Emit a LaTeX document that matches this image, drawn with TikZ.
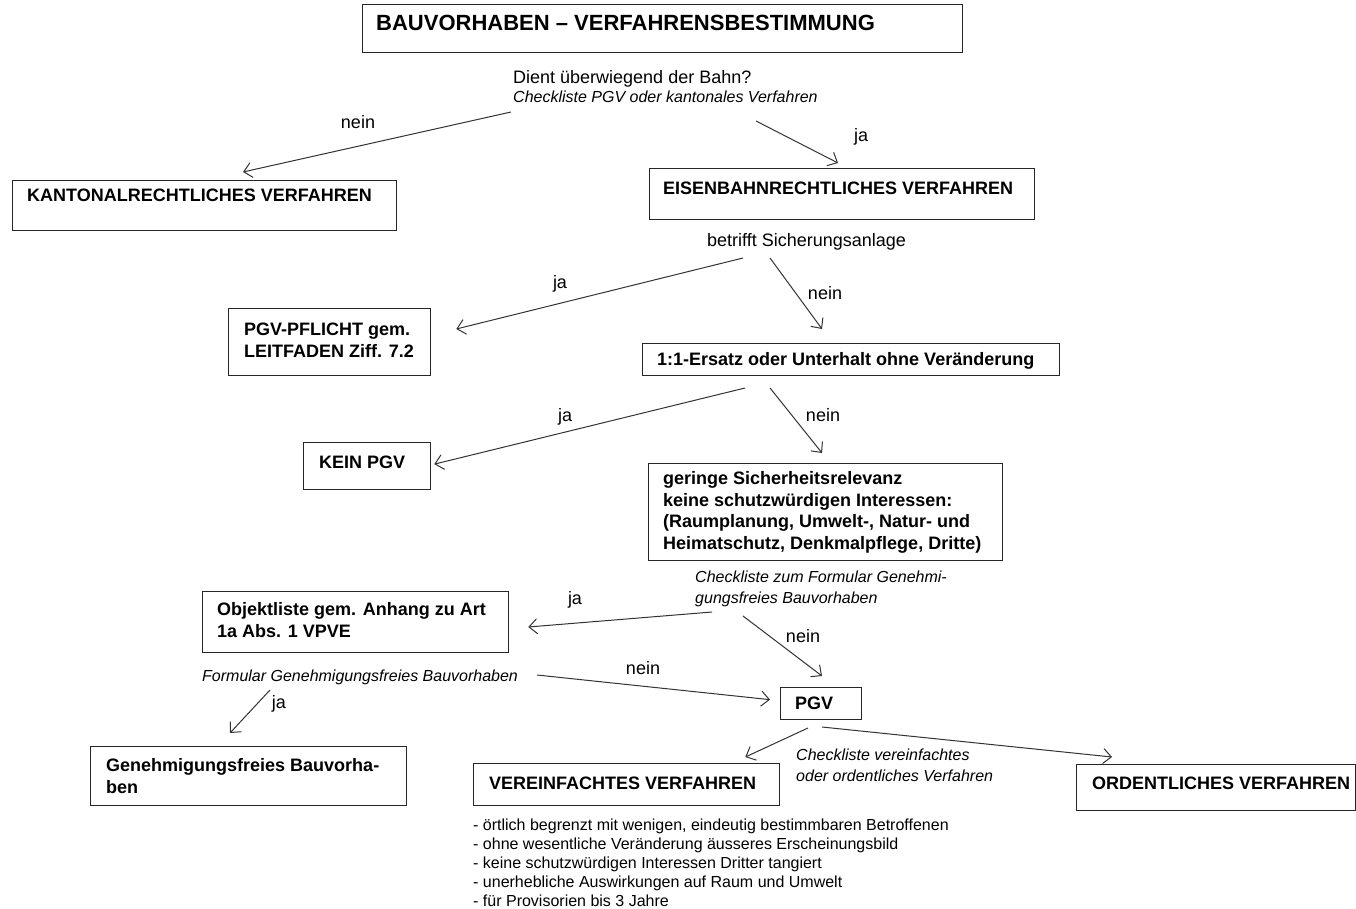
\documentclass[tikz,border=0pt]{standalone}
\usepackage{fontspec}
\setmainfont{Liberation Sans}
\usetikzlibrary{arrows.meta,calc}

\tikzset{
  box/.style={draw=black!85, line width=1.3pt, inner sep=0pt, anchor=north west},
  % multi-line texts are placed by the baseline of their last line
  txt/.style={inner sep=0pt, anchor=base west, align=left, text=black},
  bold/.style={txt, font=\fontsize{18}{21.5}\selectfont\bfseries},
  plain/.style={txt, font=\fontsize{18}{21}\selectfont},
  note/.style={txt, font=\fontsize{16}{21}\selectfont\itshape},
  small/.style={txt, font=\fontsize{16}{19}\selectfont},
  lbl/.style={inner sep=0pt, font=\fontsize{18}{21}\selectfont},
  arr/.style={draw=black!80, line width=1pt, -{Straight Barb[length=8pt,width=15pt]}}
}

\begin{document}
\begin{tikzpicture}[x=1pt,y=-1pt]
\useasboundingbox (0,0) rectangle (1356,909);

% boxes
\node[box, minimum width=600pt, minimum height=48pt] (title)   at (362,4)   {};
\node[box, minimum width=384pt, minimum height=50pt] (kant)    at (12,180)  {};
\node[box, minimum width=385pt, minimum height=51pt] (eisen)   at (649,168) {};
\node[box, minimum width=202pt, minimum height=67pt] (pflicht) at (228,308) {};
\node[box, minimum width=417pt, minimum height=32pt] (ersatz)  at (642,343) {};
\node[box, minimum width=127pt, minimum height=47pt] (kein)    at (303,442) {};
\node[box, minimum width=354pt, minimum height=97pt] (gering)  at (648,463) {};
\node[box, minimum width=306pt, minimum height=61pt] (objekt)  at (202,591) {};
\node[box, minimum width=316pt, minimum height=59pt] (genfrei) at (90,746)  {};
\node[box, minimum width=81pt,  minimum height=32pt] (pgv)     at (780,687) {};
\node[box, minimum width=306pt, minimum height=42pt] (verein)  at (473,763) {};
\node[box, minimum width=279pt, minimum height=46pt] (ordent)  at (1076,764) {};

% box texts
\node[txt, font=\fontsize{22}{26}\selectfont\bfseries] (titletxt) at (376,31)
  {BAUVORHABEN – VERFAHRENSBESTIMMUNG};
\node[bold] (kanttxt)    at (27,202)  {KANTONALRECHTLICHES VERFAHREN};
\node[bold] (eisentxt)   at (663,195) {EISENBAHNRECHTLICHES VERFAHREN};
\node[bold] (pflichttxt) at (244,357) {PGV-PFLICHT gem.\\LEITFADEN Ziff. 7.2};
\node[bold] (ersatztxt)  at (657,365) {1:1-Ersatz oder Unterhalt ohne Veränderung};
\node[bold] (keintxt)    at (319,468) {KEIN PGV};
\node[bold] (geringtxt)  at (663,549) {geringe Sicherheitsrelevanz\\keine schutzwürdigen Interessen:\\(Raumplanung, Umwelt-, Natur- und\\Heimatschutz, Denkmalpflege, Dritte)};
\node[bold] (objekttxt)  at (217,637) {Objektliste gem. Anhang zu Art\\1a Abs. 1 VPVE};
\node[bold] (genfreitxt) at (106,793) {Genehmigungsfreies Bauvorha-\\ben};
\node[bold] (pgvtxt)     at (795,709) {PGV};
\node[bold] (vereintxt)  at (489,789) {VEREINFACHTES VERFAHREN};
\node[bold] (ordenttxt)  at (1092,789) {ORDENTLICHES VERFAHREN};

% questions and checklists
\node[plain] (dient)    at (513,84)  {Dient überwiegend der Bahn?};
\node[note]  (check1)   at (513,103) {Checkliste PGV oder kantonales Verfahren};
\node[plain] (betrifft) at (707,247) {betrifft Sicherungsanlage};
\node[note]  (check2)   at (695,603) {Checkliste zum Formular Genehmi-\\gungsfreies Bauvorhaben};
\node[note]  (formular) at (202,681) {Formular Genehmigungsfreies Bauvorhaben};
\node[note]  (check3)   at (796,781) {Checkliste vereinfachtes\\oder ordentliches Verfahren};

% criteria list
\node[small] (crit) at (473,906) {- örtlich begrenzt mit wenigen, eindeutig bestimmbaren Betroffenen\\
- ohne wesentliche Veränderung äusseres Erscheinungsbild\\
- keine schutzwürdigen Interessen Dritter tangiert\\
- unerhebliche Auswirkungen auf Raum und Umwelt\\
- für Provisorien bis 3 Jahre};

% connector start points
\coordinate (s1)  at (511,112);
\coordinate (s2)  at (756,121);
\coordinate (s3)  at (743,258);
\coordinate (s4)  at (770,258);
\coordinate (s5)  at (745,388);
\coordinate (s6)  at (770,388);
\coordinate (s7)  at (712,612);
\coordinate (s8)  at (743,616);
\coordinate (s9)  at (537,675);
\coordinate (s10) at (270,690);
\coordinate (s11) at (808,728);
\coordinate (s12) at (822,727);

% connectors
\draw[arr] (s1)  -- ($(kant.north west)+(231,-8)$);
\draw[arr] (s2)  -- ($(eisen.north west)+(189,-5)$);
\draw[arr] (s3)  -- ($(pflicht.north east)+(25,21)$);
\draw[arr] (s4)  -- ($(ersatz.north west)+(180,-14)$);
\draw[arr] (s5)  -- ($(kein.east)+(3,-2)$);
\draw[arr] (s6)  -- ($(gering.north west)+(174,-10)$);
\draw[arr] (s7)  -- ($(objekt.north east)+(19,36)$);
\draw[arr] (s8)  -- ($(pgv.north west)+(42,-11)$);
\draw[arr] (s9)  -- ($(pgv.west)+(-10,-4)$);
\draw[arr] (s10) -- ($(genfrei.north west)+(140,-13)$);
\draw[arr] (s11) -- ($(verein.north east)+(-35,-6)$);
\draw[arr] (s12) -- ($(ordent.north west)+(36,-7)$);

% branch labels
\node[lbl] (l1)  at (358,122) {nein};
\node[lbl] (l2)  at (861,137) {ja};
\node[lbl] (l3)  at (560,284) {ja};
\node[lbl] (l4)  at (825,293) {nein};
\node[lbl] (l5)  at (565,417) {ja};
\node[lbl] (l6)  at (823,415) {nein};
\node[lbl] (l7)  at (575,600) {ja};
\node[lbl] (l8)  at (803,636) {nein};
\node[lbl] (l9)  at (643,668) {nein};
\node[lbl] (l10) at (279,704) {ja};
\end{tikzpicture}
\end{document}
